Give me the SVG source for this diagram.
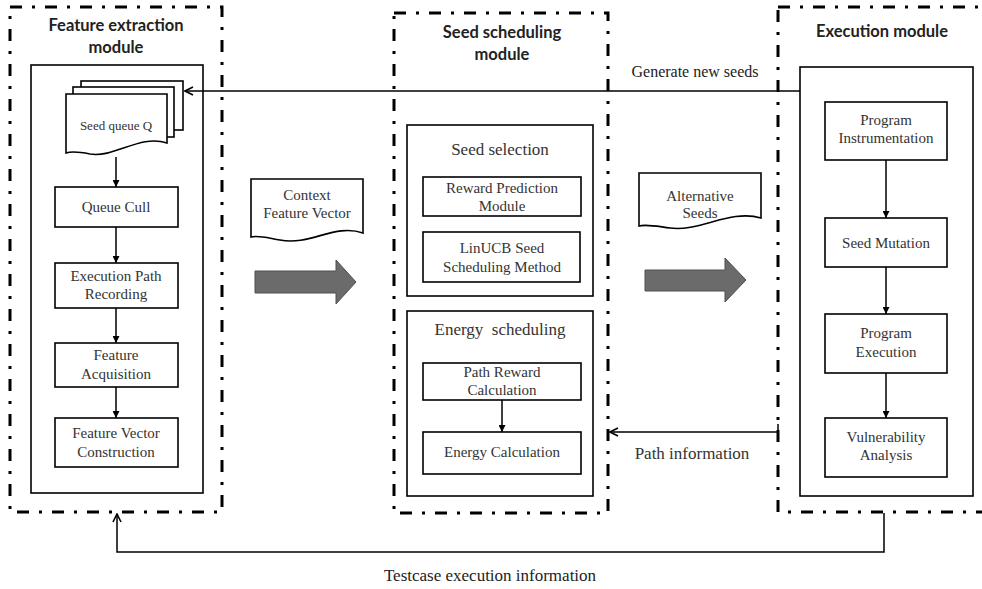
<svg xmlns="http://www.w3.org/2000/svg" width="982" height="589" viewBox="0 0 982 589">
<defs>
<style>
.mod{fill:none;stroke:#000;stroke-width:3;stroke-dasharray:12 10 3 10}
.box{fill:#fff;stroke:#000;stroke-width:1.6}
.frame{fill:none;stroke:#000;stroke-width:1.6}
.t{font-family:"Liberation Serif","Times New Roman",serif;font-size:15px;fill:#333;text-anchor:middle}
.tl{font-family:"Liberation Serif","Times New Roman",serif;font-size:17px;fill:#333;text-anchor:middle}
.ts{font-family:"Liberation Serif","Times New Roman",serif;font-size:16px;fill:#222;text-anchor:middle}
.h{font-family:Lato,"Open Sans",sans-serif;font-weight:bold;font-size:16.5px;fill:#222;text-anchor:middle}
.ln{fill:none;stroke:#000;stroke-width:1.5}
.big{fill:#6b6b6b;stroke:#505050;stroke-width:1}
</style>
<marker id="tri" viewBox="0 0 10 10" refX="10" refY="5" markerWidth="7" markerHeight="7" markerUnits="userSpaceOnUse" orient="auto">
<path d="M0,0 L10,5 L0,10 Z" fill="#000"/>
</marker>
<marker id="open" viewBox="0 0 10 10" refX="9" refY="5" markerWidth="10" markerHeight="10" markerUnits="userSpaceOnUse" orient="auto">
<path d="M1,1 L9,5 L1,9" fill="none" stroke="#000" stroke-width="1.6"/>
</marker>
</defs>
<rect width="982" height="589" fill="#fff"/>

<g id="feature-module">
<rect class="mod" x="10" y="7" width="212" height="505"/>
<text class="h" x="116" y="31">Feature extraction</text>
<text class="h" x="116" y="53">module</text>
<rect class="frame" x="31" y="65" width="172" height="428"/>
</g>

<g id="scheduling-module">
<rect class="mod" x="394" y="13" width="214" height="500"/>
<text class="h" x="502" y="38">Seed scheduling</text>
<text class="h" x="502" y="60">module</text>
</g>

<g id="execution-module">
<rect class="mod" x="778" y="7" width="220" height="505"/>
<text class="h" x="882" y="37">Execution module</text>
<rect class="frame" x="800" y="67" width="173" height="429"/>
</g>

<g id="connectors">
<line class="ln" x1="800" y1="91" x2="185" y2="91" marker-end="url(#open)"/>
<line class="ln" x1="116" y1="157" x2="116" y2="187" marker-end="url(#tri)"/>
<line class="ln" x1="116" y1="227" x2="116" y2="263" marker-end="url(#tri)"/>
<line class="ln" x1="116" y1="308" x2="116" y2="343" marker-end="url(#tri)"/>
<line class="ln" x1="116" y1="387" x2="116" y2="418" marker-end="url(#tri)"/>
<line class="ln" x1="502" y1="400" x2="502" y2="432" marker-end="url(#tri)"/>
<line class="ln" x1="886" y1="160" x2="886" y2="218" marker-end="url(#tri)"/>
<line class="ln" x1="886" y1="267" x2="886" y2="314" marker-end="url(#tri)"/>
<line class="ln" x1="886" y1="373" x2="886" y2="418" marker-end="url(#tri)"/>
<polyline class="ln" points="778,424 778,432 610,432" marker-end="url(#open)"/>
<polyline class="ln" points="884,513 884,552 117,552 117,514" marker-end="url(#open)"/>
<polygon class="big" points="255,271 336,271 336,260 356,282 336,304 336,293 255,293"/>
<polygon class="big" points="645,270 725,270 725,258 746,280 725,302 725,291 645,291"/>
</g>

<g id="labels">
<text class="ts" x="695" y="77">Generate new seeds</text>
<text class="t" x="692" y="459" style="font-size:17px">Path information</text>
<text class="ts" x="490" y="581" style="font-size:17px">Testcase execution information</text>
</g>

<g id="seed-queue">
<rect class="box" x="81" y="81" width="102" height="49"/>
<rect class="box" x="73" y="87" width="101" height="50"/>
<path class="box" d="M66,94 H167 V143 C140,134 115,158 90,154 C80,152 72,151 66,153 Z"/>
<text class="t" x="116" y="130" style="font-size:13px">Seed queue Q</text>
</g>

<g id="queue-cull">
<rect class="box" x="55" y="187" width="123" height="40"/>
<text class="t" x="116" y="212">Queue Cull</text>
</g>

<g id="exec-path-recording">
<rect class="box" x="55" y="263" width="123" height="45"/>
<text class="t" x="116" y="281">Execution Path</text>
<text class="t" x="116" y="299">Recording</text>
</g>

<g id="feature-acquisition">
<rect class="box" x="55" y="343" width="123" height="44"/>
<text class="t" x="116" y="360">Feature</text>
<text class="t" x="116" y="379">Acquisition</text>
</g>

<g id="feature-vector-construction">
<rect class="box" x="55" y="418" width="123" height="49"/>
<text class="t" x="116" y="438">Feature Vector</text>
<text class="t" x="116" y="457">Construction</text>
</g>

<g id="context-feature-vector">
<path class="box" d="M251,179 H363 V233 C335,223 310,246 280,240 C268,238 258,235 251,237 Z"/>
<text class="t" x="307" y="200">Context</text>
<text class="t" x="307" y="218">Feature Vector</text>
</g>

<g id="alternative-seeds">
<path class="box" d="M639,173 H761 V218 C730,209 700,232 670,228 C655,226 646,224 639,226 Z"/>
<text class="t" x="700" y="201">Alternative</text>
<text class="t" x="700" y="218">Seeds</text>
</g>

<g id="seed-selection">
<rect class="box" x="407" y="125" width="186" height="171"/>
<text class="tl" x="500" y="155">Seed selection</text>
</g>

<g id="reward-prediction">
<rect class="box" x="423" y="177" width="158" height="39"/>
<text class="t" x="502" y="193">Reward Prediction</text>
<text class="t" x="502" y="211">Module</text>
</g>

<g id="linucb">
<rect class="box" x="423" y="232" width="157" height="50"/>
<text class="t" x="502" y="253">LinUCB Seed</text>
<text class="t" x="502" y="272">Scheduling Method</text>
</g>

<g id="energy-scheduling">
<rect class="frame" x="407" y="311" width="186" height="185"/>
<text class="tl" x="500" y="335" xml:space="preserve">Energy  scheduling</text>
</g>

<g id="path-reward">
<rect class="box" x="423" y="363" width="158" height="37"/>
<text class="t" x="502" y="377">Path Reward</text>
<text class="t" x="502" y="395">Calculation</text>
</g>

<g id="energy-calculation">
<rect class="box" x="423" y="432" width="158" height="42"/>
<text class="t" x="502" y="457">Energy Calculation</text>
</g>

<g id="program-instrumentation">
<rect class="box" x="825" y="102" width="122" height="58"/>
<text class="t" x="886" y="125">Program</text>
<text class="t" x="886" y="143">Instrumentation</text>
</g>

<g id="seed-mutation">
<rect class="box" x="825" y="218" width="122" height="49"/>
<text class="t" x="886" y="248">Seed Mutation</text>
</g>

<g id="program-execution">
<rect class="box" x="825" y="314" width="122" height="59"/>
<text class="t" x="886" y="338">Program</text>
<text class="t" x="886" y="357">Execution</text>
</g>

<g id="vulnerability-analysis">
<rect class="box" x="825" y="418" width="122" height="59"/>
<text class="t" x="886" y="442">Vulnerability</text>
<text class="t" x="886" y="460">Analysis</text>
</g>
</svg>
